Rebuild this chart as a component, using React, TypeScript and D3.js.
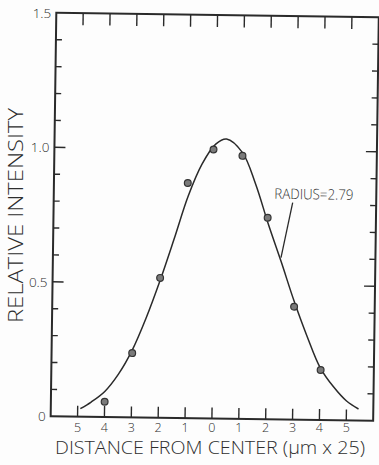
import React from "react";
import * as d3 from "d3";

// ---- data ----
const pointX = [-4, -3, -2, -1.02, -0.08, 1, 1.97, 3, 4.02];
const pointY = [0.057, 0.239, 0.52, 0.874, 1.0, 0.978, 0.749, 0.42, 0.186];

const curveX = [-4.9, -4.5, -4, -3.5, -3, -2.5, -2, -1.5, -1, -0.5, 0, 0.4, 1, 1.5, 2, 2.5, 3, 3.5, 4, 4.5, 5, 5.45];
const curveY = [0.03, 0.055, 0.095, 0.16, 0.25, 0.37, 0.51, 0.665, 0.825, 0.945, 1.02, 1.04, 0.99, 0.875, 0.725, 0.585, 0.44, 0.31, 0.195, 0.125, 0.072, 0.043];

const xTicks = [-5, -4, -3, -2, -1, 0, 1, 2, 3, 4, 5];
const xTickLabels = ["5", "4", "3", "2", "1", "0", "1", "2", "3", "4", "5"];
const yLabelValues = [0, 0.5, 1.0, 1.5];
const yLabelTexts = ["0", "0.5", "1.0", "1.5"];
const yMinorTicks = [0.1, 0.2, 0.3, 0.4, 0.5, 0.6, 0.7, 0.8, 0.9, 1.0, 1.1, 1.2, 1.3, 1.4];
const yMajorTicks = [0.5, 1.0];

const annotationText = "RADIUS=2.79";
const annotationPos = [2.21, 0.82];
const leader = [[2.893, 0.8065], [2.487, 0.6016]];

const xTitle = "DISTANCE FROM CENTER (\u03BCm x 25)";
const yTitle = "RELATIVE INTENSITY";

// ---- layout ----
const W = 379, H = 465;
const L = 53.5, R = 376, T = 15, B = 418.5;
const ANG = 0.8, CX = 212, CY = 215;
const INK = "#2a2a2a";
const TXT = "#2e2e2e";
const FONT = "'Open Sans', 'Liberation Sans', Arial, sans-serif";
const FW = 300;

export default function App() {
  const x = d3.scaleLinear().domain([-6, 6]).range([L, R]);
  const y = d3.scaleLinear().domain([0, 1.5]).range([B, T]);
  const rad = (ANG * Math.PI) / 180;
  const rot = (px: number, py: number) => [
    CX + (px - CX) * Math.cos(rad) - (py - CY) * Math.sin(rad),
    CY + (px - CX) * Math.sin(rad) + (py - CY) * Math.cos(rad),
  ];
  const curvePts = curveX.map((v, i) => [v, curveY[i]] as [number, number]);
  const line = d3
    .line<[number, number]>()
    .x((d) => x(d[0]))
    .y((d) => y(d[1]))
    .curve(d3.curveCatmullRom.alpha(0.5));

  return (
    <svg
      width={W}
      height={H}
      style={{ position: "absolute", left: 0, top: 0, background: "#fdfdfd" }}
    >
      <g transform={`rotate(${ANG} ${CX} ${CY})`}>
        <rect x={L} y={T} width={R - L} height={B - T} fill="none" stroke={INK} strokeWidth={2} />
        {xTicks.map((v) => (
          <g key={"xt" + v}>
            <line x1={x(v)} x2={x(v)} y1={B} y2={B - 11} stroke={INK} strokeWidth={1.4} />
            <line x1={x(v)} x2={x(v)} y1={T} y2={T + 12} stroke={INK} strokeWidth={1.4} />
          </g>
        ))}
        {yMinorTicks.map((v) => {
          const len = yMajorTicks.includes(v) ? 11 : 6;
          return (
            <g key={"yt" + v}>
              <line x1={L} x2={L + len} y1={y(v)} y2={y(v)} stroke={INK} strokeWidth={1.4} />
              <line x1={R} x2={R - len} y1={y(v)} y2={y(v)} stroke={INK} strokeWidth={1.4} />
            </g>
          );
        })}
        <path d={line(curvePts) || ""} fill="none" stroke={INK} strokeWidth={1.5} />
        {pointX.map((v, i) => (
          <circle key={"p" + i} cx={x(v)} cy={y(pointY[i])} r={3.4} fill="#7a7a7a" stroke="#333" strokeWidth={1.2} />
        ))}
        <line
          x1={x(leader[0][0])}
          y1={y(leader[0][1])}
          x2={x(leader[1][0])}
          y2={y(leader[1][1])}
          stroke={INK}
          strokeWidth={1.3}
        />
        <text
          x={x(annotationPos[0])}
          y={y(annotationPos[1])}
          fontFamily={FONT}
          fontWeight={FW}
          fontSize={14.5}
          fill={TXT}
          textLength={79}
          lengthAdjust="spacingAndGlyphs"
        >
          {annotationText}
        </text>
      </g>

      {xTicks.map((v, i) => {
        const [sx] = rot(x(v), B);
        return (
          <text key={"xl" + i} x={sx} y={431.5} textAnchor="middle" fontFamily={FONT} fontWeight={FW} fontSize={12.5} fill={TXT}>
            {xTickLabels[i]}
          </text>
        );
      })}
      {yLabelValues.map((v, i) => {
        const [sx, sy] = rot(L, y(v));
        return (
          <text
            key={"yl" + i}
            x={sx - 5}
            y={sy}
            dy="0.36em"
            textAnchor="end"
            fontFamily={FONT}
            fontWeight={FW}
            fontSize={13.5}
            fill={TXT}
          >
            {yLabelTexts[i]}
          </text>
        );
      })}

      <text
        x={55}
        y={454}
        fontFamily={FONT}
        fontWeight={FW}
        fontSize={17.5}
        fill={TXT}
        textLength={310}
        lengthAdjust="spacingAndGlyphs"
      >
        {xTitle}
      </text>
      <text
        transform={`translate(23, 215.5) rotate(-90)`}
        textAnchor="middle"
        fontFamily={FONT}
        fontWeight={FW}
        fontSize={21}
        fill={TXT}
        textLength={215}
        lengthAdjust="spacingAndGlyphs"
      >
        {yTitle}
      </text>
    </svg>
  );
}
